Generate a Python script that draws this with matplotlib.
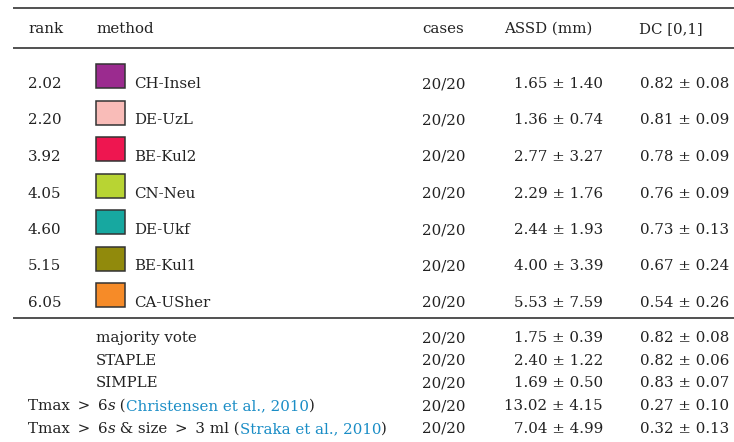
import matplotlib
matplotlib.use("Agg")
import matplotlib.pyplot as plt
from matplotlib.patches import Rectangle

# ---- data ----
ranks = ["2.02", "2.20", "3.92", "4.05", "4.60", "5.15", "6.05"]
methods = ["CH-Insel", "DE-UzL", "BE-Kul2", "CN-Neu", "DE-Ukf", "BE-Kul1", "CA-USher"]
colors = ["#9b2b8f", "#f9bcb8", "#ee1650", "#b8d433", "#17a8a0", "#918a0c", "#f68b28"]
cases = ["20/20"] * 7
assd_mean = [1.65, 1.36, 2.77, 2.29, 2.44, 4.00, 5.53]
assd_sd = [1.40, 0.74, 3.27, 1.76, 1.93, 3.39, 7.59]
dc_mean = [0.82, 0.81, 0.78, 0.76, 0.73, 0.67, 0.54]
dc_sd = [0.08, 0.09, 0.09, 0.09, 0.13, 0.24, 0.26]

fusion_methods = ["majority vote", "STAPLE", "SIMPLE"]
fusion_cases = ["20/20"] * 3
fusion_assd_mean = [1.75, 2.40, 1.69]
fusion_assd_sd = [0.39, 1.22, 0.50]
fusion_dc_mean = [0.82, 0.82, 0.83]
fusion_dc_sd = [0.08, 0.06, 0.07]

base_cases = ["20/20", "20/20"]
base_assd_mean = [13.02, 7.04]
base_assd_sd = [4.15, 4.99]
base_dc_mean = [0.27, 0.32]
base_dc_sd = [0.10, 0.13]
GT = "\u2009>\u2009"
base_prefix = [("Tmax " + GT + " 6", "s", " ("),
               ("Tmax " + GT + " 6", "s", " & size " + GT + " 3 ml (")]
base_cite = ["Christensen et al., 2010", "Straka et al., 2010"]

headers = ["rank", "method", "cases", "ASSD (mm)", "DC [0,1]"]

# ---- layout ----
W, H = 734, 442
fig = plt.figure(figsize=(W / 100, H / 100), dpi=100)
ax = fig.add_axes([0, 0, 1, 1])
ax.set_xlim(0, W)
ax.set_ylim(H, 0)
ax.axis("off")

FONT = "DejaVu Serif"
FS = 10.8
TC = "#222222"
BLUE = "#1a8dc6"

x_rank, x_sq, x_meth, x_case, x_assd_r, x_dc_r = 28, 96, 134, 422, 603, 729
x_hdr = [28, 96, 422, 504, 639]

def txt(x, y, s, ha="left", color=TC, style="normal"):
    return ax.text(x, y, s, ha=ha, va="baseline", fontsize=FS, family=FONT,
                   color=color, style=style)

# rules
for y in (8, 48, 318):
    ax.plot([13, W], [y, y], color="#333333", lw=1.2, solid_capstyle="butt")

# header
for x, h in zip(x_hdr, headers):
    txt(x, 33, h)

# main rows
pitch = 36.5
for i in range(len(ranks)):
    yb = 88 + pitch * i
    txt(x_rank, yb, ranks[i])
    ax.add_patch(Rectangle((x_sq, yb - 24), 29, 24, facecolor=colors[i],
                           edgecolor="#333333", lw=1.1))
    txt(x_meth, yb, methods[i])
    txt(x_case, yb, cases[i])
    txt(x_assd_r, yb, f"{assd_mean[i]:.2f} \u00b1 {assd_sd[i]:.2f}", ha="right")
    txt(x_dc_r, yb, f"{dc_mean[i]:.2f} \u00b1 {dc_sd[i]:.2f}", ha="right")

# fusion rows
fy = [342, 364.7, 387.4]
for i in range(len(fusion_methods)):
    yb = fy[i]
    txt(x_sq, yb, fusion_methods[i])
    txt(x_case, yb, fusion_cases[i])
    txt(x_assd_r, yb, f"{fusion_assd_mean[i]:.2f} \u00b1 {fusion_assd_sd[i]:.2f}", ha="right")
    txt(x_dc_r, yb, f"{fusion_dc_mean[i]:.2f} \u00b1 {fusion_dc_sd[i]:.2f}", ha="right")

# baseline rows with mixed styling
fig.canvas.draw()
renderer = fig.canvas.get_renderer()
inv = ax.transData.inverted()

def width_of(t):
    bb = t.get_window_extent(renderer=renderer)
    (x0, _), (x1, _) = inv.transform([[bb.x0, bb.y0], [bb.x1, bb.y1]])
    return x1 - x0

by = [410.1, 432.8]
for i in range(2):
    yb = by[i]
    x = x_rank
    p1, it, p2 = base_prefix[i]
    for s, col, st in [(p1, TC, "normal"), (it, TC, "italic"), (p2, TC, "normal"),
                       (base_cite[i], BLUE, "normal"), (")", TC, "normal")]:
        t = txt(x, yb, s, color=col, style=st)
        x += width_of(t)
    txt(x_case, yb, base_cases[i])
    txt(x_assd_r, yb, f"{base_assd_mean[i]:.2f} \u00b1 {base_assd_sd[i]:.2f}", ha="right")
    txt(x_dc_r, yb, f"{base_dc_mean[i]:.2f} \u00b1 {base_dc_sd[i]:.2f}", ha="right")

fig.savefig("out.png", dpi=100, facecolor="white")
